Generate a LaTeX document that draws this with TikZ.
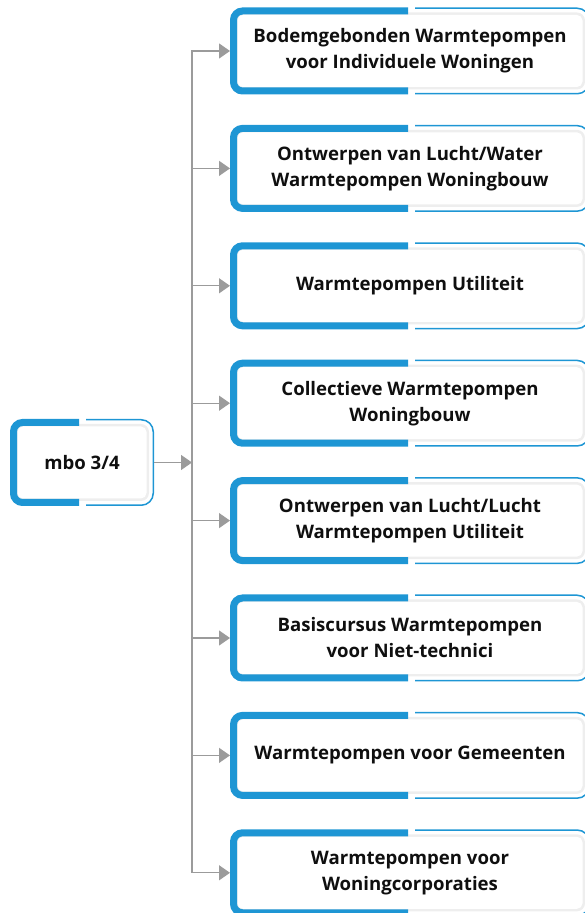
\documentclass[tikz,border=0pt]{standalone}
\usepackage{fontspec}
\setmainfont{Open Sans}
\usetikzlibrary{arrows.meta,calc}
\pgfdeclarelayer{bg}
\pgfsetlayers{bg,main}
\definecolor{kblue}{RGB}{30,150,212}
\definecolor{karrowc}{RGB}{155,155,155}
\definecolor{khalo}{RGB}{238,238,238}
\definecolor{ktext}{RGB}{15,15,15}
\newcommand\kdeco[2]{%
 \begin{pgfonlayer}{bg}
  \fill[khalo,rounded corners=8pt] ($(#1.south west)+(5,5)$) rectangle ($(#1.north east)+(-5,-5)$);
  \fill[white,rounded corners=5.5pt] ($(#1.south west)+(7.5,7.5)$) rectangle ($(#1.north east)+(-7.5,-7.5)$);
  \draw[kblue,line width=7pt,rounded corners=9pt] ($(#1.north west)+(#2,-3.5)$) -- ($(#1.north west)+(3.5,-3.5)$) -- ($(#1.south west)+(3.5,3.5)$) -- ($(#1.south west)+(#2,3.5)$);
  \draw[kblue,line width=1.5pt,rounded corners=12pt] ($(#1.north west)+(#2+7,-0.75)$) -- ($(#1.north east)+(-0.75,-0.75)$) -- ($(#1.south east)+(-0.75,0.75)$) -- ($(#1.south west)+(#2+7,0.75)$);
 \end{pgfonlayer}}
\tikzset{
  kbase/.style={minimum height=87pt, inner sep=0pt, outer sep=0pt, align=center,
    font=\bfseries\fontsize{18.6}{26}\selectfont, text=ktext},
  kbox/.style={kbase, minimum width=360pt},
  kroot/.style={kbase, minimum width=144pt},
  karr/.style={draw=karrowc, line width=1.3pt, -{Triangle[length=11pt,width=15pt]}}
}
\begin{document}
\begin{tikzpicture}[x=1pt,y=1pt]
\useasboundingbox (0,0) rectangle (584,913);
\clip (0,0) rectangle (584,913);
\node[kroot] (m) at (82,450.5) {mbo 3/4};
\kdeco{m}{69}
\node[kbox] (b1) at (410,862) {Bodemgebonden Warmtepompen\\voor Individuele Woningen};
\node[kbox] (b2) at (410,744.6) {Ontwerpen van Lucht/Water\\Warmtepompen Woningbouw};
\node[kbox] (b3) at (410,627.2) {Warmtepompen Utiliteit};
\node[kbox] (b4) at (410,509.8) {Collectieve Warmtepompen\\Woningbouw};
\node[kbox] (b5) at (410,392.4) {Ontwerpen van Lucht/Lucht\\Warmtepompen Utiliteit};
\node[kbox] (b6) at (410,275) {Basiscursus Warmtepompen\\voor Niet-technici};
\node[kbox] (b7) at (410,157.6) {Warmtepompen voor Gemeenten};
\node[kbox] (b8) at (410,40.2) {Warmtepompen voor\\Woningcorporaties};
\foreach \i in {1,...,8} {\kdeco{b\i}{178}}
\coordinate (j) at (192,450.5);
\draw[karr] (m.east) -- (j);
\foreach \i in {1,...,8} {\draw[karr] (j) |- (b\i.west);}
\end{tikzpicture}
\end{document}
